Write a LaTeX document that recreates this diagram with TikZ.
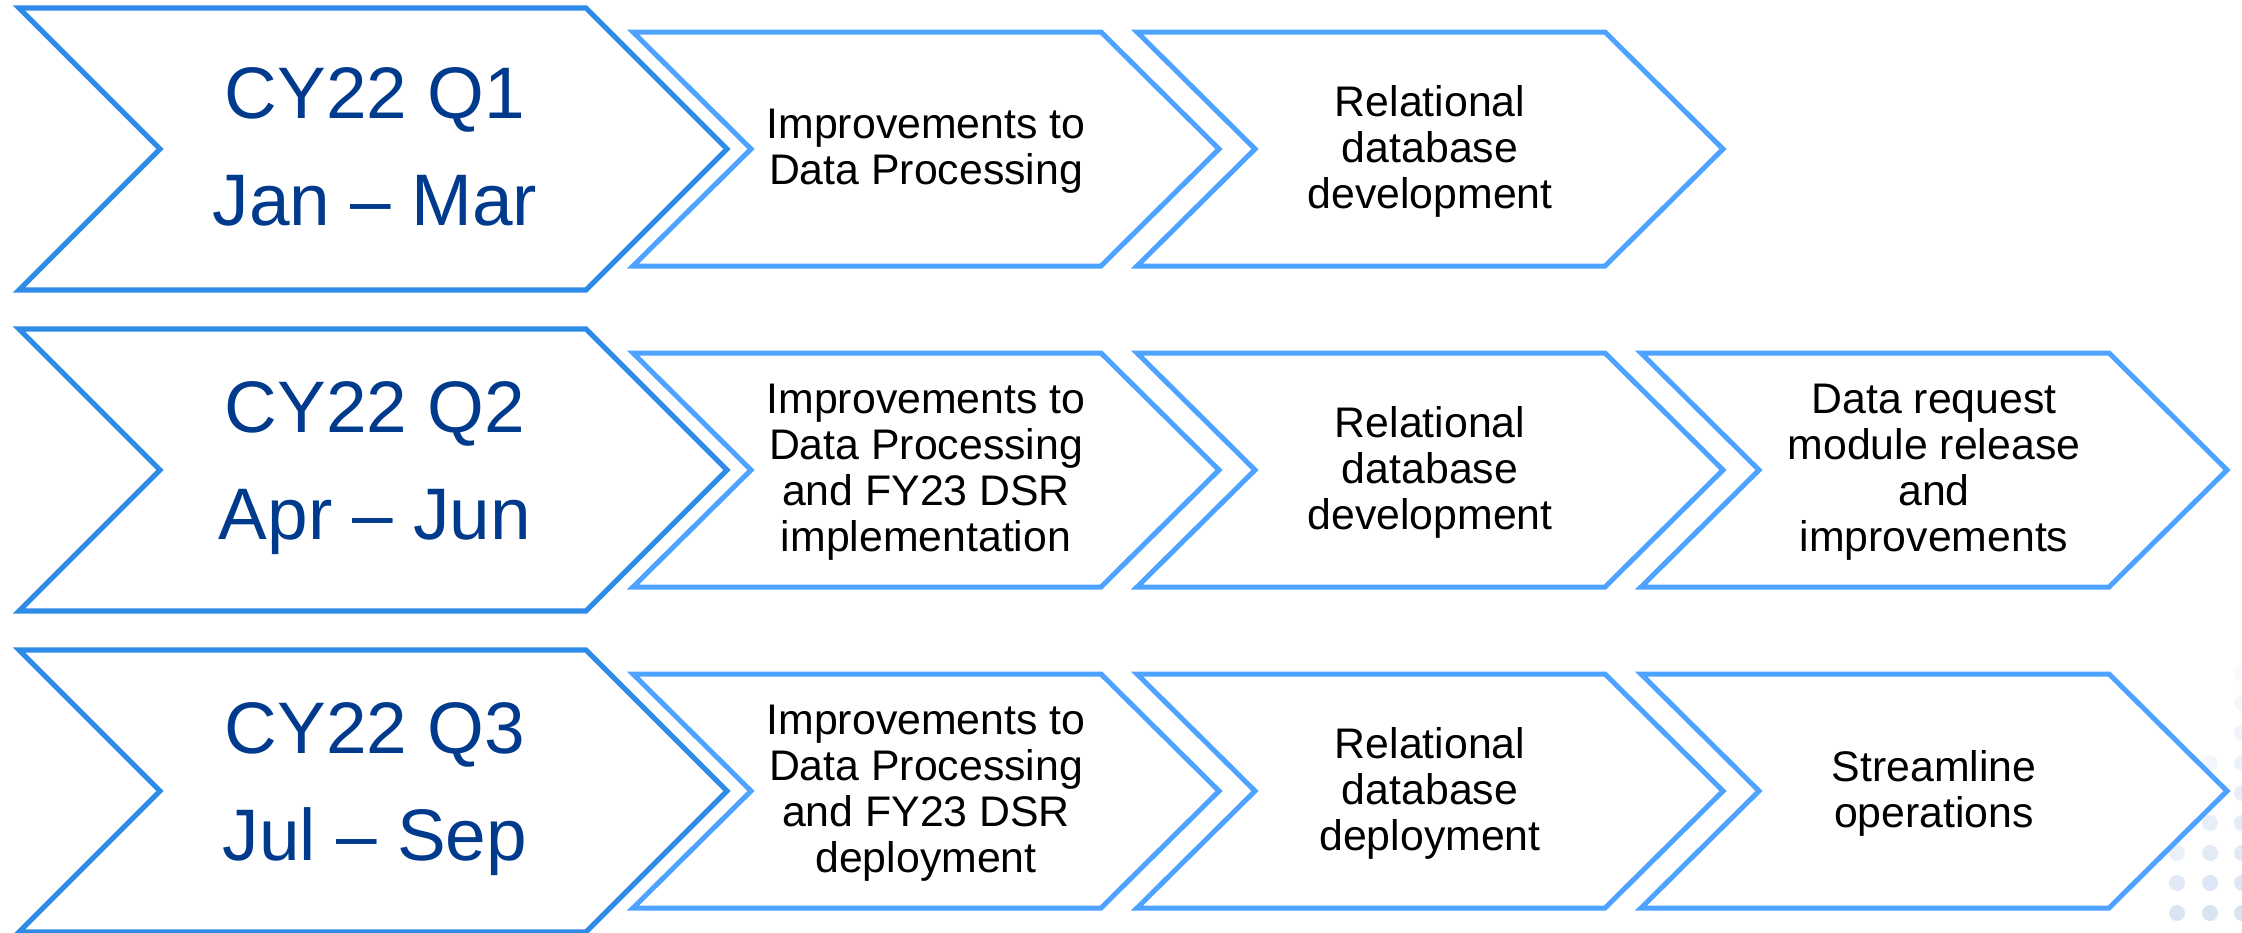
\documentclass[tikz,border=0pt]{standalone}
\usepackage{fontspec}
\setmainfont{Liberation Sans}
\definecolor{bigline}{HTML}{2E8BE8}
\definecolor{smallline}{HTML}{4DA3FF}
\definecolor{navy}{HTML}{003A8C}
\definecolor{dotc}{HTML}{D9E4F3}
\tikzset{
  bigchev/.style={draw=bigline, line width=2.6pt, fill=white},
  smallchev/.style={draw=smallline, line width=2.5pt, fill=white},
  bigtext/.style={text=navy, font=\fontsize{36.5}{53.5}\selectfont, align=center, inner sep=0pt},
  smalltext/.style={text=black, font=\fontsize{21.4}{23}\selectfont, align=center, inner sep=0pt},
  bgdot/.style={fill=dotc, draw=none}
}
% style, x0, yc, half height, depth, body width
\newcommand\chevronpath[6]{%
  \draw[#1] (#2,#3-#4) -- (#2+#6,#3-#4) -- (#2+#6+#5,#3) -- (#2+#6,#3+#4) -- (#2,#3+#4) -- (#2+#5,#3) -- cycle;}
\begin{document}
\begin{tikzpicture}[x=0.5pt, y=-0.5pt]
\useasboundingbox (0,0) rectangle (2242,932);
\fill[white] (0,0) rectangle (2242,932);
% faint background dots
\foreach \yy/\op in {673/0.2,703/0.3,733/0.4,763/0.5,793/0.6,823/0.7,853/0.8,883/0.9,913/1}
  \fill[bgdot, opacity=\op] (2242,\yy) circle (8);
\foreach \yy/\op in {763/0.3,793/0.45,823/0.6,853/0.75,883/0.9,913/1}
  \fill[bgdot, opacity=\op] (2210,\yy) circle (8);
\foreach \yy/\op in {823/0.3,853/0.55,883/0.8,913/0.95}
  \fill[bgdot, opacity=\op] (2177,\yy) circle (8);
% chevrons
\foreach \yc in {149,470,791}{
  \chevronpath{bigchev}{19}{\yc}{141}{141}{567}
  \chevronpath{smallchev}{633}{\yc}{117}{118}{468}
  \chevronpath{smallchev}{1137}{\yc}{117}{118}{468}
}
\chevronpath{smallchev}{1641}{470}{117}{118}{468}
\chevronpath{smallchev}{1641}{791}{117}{118}{468}
% texts row 1
\node[bigtext] (q1) at (375,147) {CY22 Q1\\Jan -- Mar};
\node[smalltext] (r1a) at (926,151) {Improvements to\\Data Processing};
\node[smalltext] (r1b) at (1430,151) {Relational\\database\\development};
% row 2
\node[bigtext] (q2) at (375,468) {CY22 Q2\\Apr -- Jun};
\node[smalltext] (r2a) at (926,472) {Improvements to\\Data Processing\\and FY23 DSR\\implementation};
\node[smalltext] (r2b) at (1430,472) {Relational\\database\\development};
\node[smalltext] (r2c) at (1934,472) {Data request\\module release\\and\\improvements};
% row 3
\node[bigtext] (q3) at (375,789) {CY22 Q3\\Jul -- Sep};
\node[smalltext] (r3a) at (926,793) {Improvements to\\Data Processing\\and FY23 DSR\\deployment};
\node[smalltext] (r3b) at (1430,793) {Relational\\database\\deployment};
\node[smalltext] (r3c) at (1934,793) {Streamline\\operations};
\end{tikzpicture}
\end{document}
